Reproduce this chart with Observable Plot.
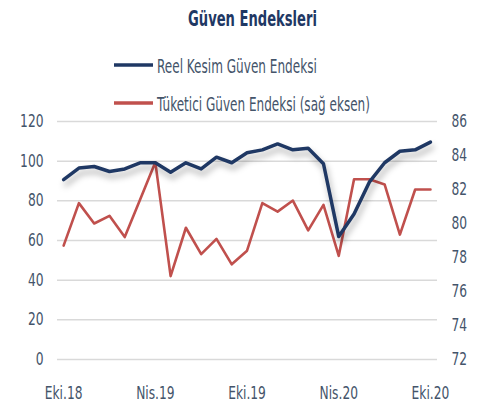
<!DOCTYPE html>
<html>
<head>
<meta charset="utf-8">
<script src="https://cdn.jsdelivr.net/npm/d3@7"></script>
<script src="https://cdn.jsdelivr.net/npm/@observablehq/plot@0.6"></script>
<style>
  html, body { margin: 0; padding: 0; background: #ffffff; }
  #wrap { position: relative; width: 483px; height: 409px; overflow: hidden; background: #fff; }
  #header { position: absolute; left: 100px; top: 0; }
  #chart { position: absolute; left: 0; top: 100px; }
</style>
</head>
<body>
<div id="wrap">
  <div id="chart"></div>
  <div id="header"></div>
</div>
<script>
// ---- data ----
const months = ["Eki.18","Kas.18","Ara.18","Oca.19","Şub.19","Mar.19","Nis.19","May.19","Haz.19","Tem.19","Ağu.19","Eyl.19",
                "Eki.19","Kas.19","Ara.19","Oca.20","Şub.20","Mar.20","Nis.20","May.20","Haz.20","Tem.20","Ağu.20","Eyl.20","Eki.20"];
const reelKesim = [90.7, 96.5, 97.3, 94.8, 96.1, 99.2, 99.2, 94.4, 99.2, 96.1, 102.0, 99.2,
                   104.2, 105.7, 108.7, 105.7, 106.5, 98.7, 62.0, 73.4, 89.4, 99.2, 105.0, 105.7, 109.6];
const tuketici = [78.7, 81.2, 80.0, 80.45, 79.2, 81.4, 83.6, 76.9, 79.75, 78.2, 79.1, 77.6,
                  78.4, 81.2, 80.7, 81.35, 79.6, 81.1, 78.1, 82.6, 82.6, 82.3, 79.35, 82.0, 82.0];
const xTickLabels = ["Eki.18","Nis.19","Eki.19","Nis.20","Eki.20"];
const leftTicks = [0, 20, 40, 60, 80, 100, 120];
const rightTicks = [72, 74, 76, 78, 80, 82, 84, 86];
const titleText = "Güven Endeksleri";
const seriesNames = ["Reel Kesim Güven Endeksi", "Tüketici Güven Endeksi (sağ eksen)"];

const FONT = '"Liberation Sans Narrow", "Arial Narrow", "DejaVu Sans Condensed", sans-serif';
const BLUE = "#1F3864", RED = "#C0504D", TEXT = "#44546A";

// map right-axis values onto the left scale
const rMin = rightTicks[0], rMax = rightTicks[rightTicks.length - 1];
const lMin = leftTicks[0], lMax = leftTicks[leftTicks.length - 1];
const toLeft = v => lMin + (v - rMin) / (rMax - rMin) * (lMax - lMin);
const toRight = v => rMin + (v - lMin) / (lMax - lMin) * (rMax - rMin);

const reelData = reelKesim.map((v, i) => ({i, month: months[i], v}));
const tukData = tuketici.map((v, i) => ({i, month: months[i], v: toLeft(v)}));
const xTicks = xTickLabels.map(m => months.indexOf(m));

const plot = Plot.plot({
  width: 483,
  height: 309,
  marginTop: 21,
  marginBottom: 50,
  marginLeft: 57,
  marginRight: 46,
  x: {domain: [-0.4, months.length - 1 + 0.46], axis: null},
  y: {domain: [lMin, lMax], axis: null},
  style: {fontFamily: FONT, fontSize: "17px", color: TEXT, background: "transparent"},
  marks: [
    Plot.gridY(leftTicks, {stroke: "#D9D9D9", strokeOpacity: 1, strokeWidth: 1.5}),
    Plot.axisY(leftTicks, {anchor: "left", label: null, tickSize: 0, tickPadding: 14, fill: TEXT, fontSize: 17}),
    Plot.axisY(rightTicks.map(toLeft), {anchor: "right", label: null, tickSize: 0, tickPadding: 14, fill: TEXT, fontSize: 17,
      tickFormat: d => String(Math.round(toRight(d)))}),
    Plot.axisX(xTicks, {anchor: "bottom", label: null, tickSize: 0, tickPadding: 27, fill: TEXT, fontSize: 17,
      tickFormat: i => months[i]}),
    Plot.lineY(tukData, {x: "i", y: "v", stroke: RED, strokeWidth: 2.6}),
    Plot.lineY(reelData, {x: "i", y: "v", stroke: BLUE, strokeWidth: 3.5})
  ]
});
document.getElementById("chart").appendChild(plot);
// narrow the tick labels horizontally, like the condensed original typeface
plot.querySelectorAll('g[aria-label$="tick label"] text').forEach(t => {
  const w = t.getComputedTextLength();
  if (w > 0) { t.setAttribute("textLength", (w * 0.8).toFixed(1)); t.setAttribute("lengthAdjust", "spacingAndGlyphs"); }
});
// soft shadow under the blue line, as in the original
const lines = plot.querySelectorAll('g[aria-label="line"]');
if (lines.length) lines[lines.length - 1].style.filter = "drop-shadow(2px 5px 3px rgba(0,0,0,0.32))";

// ---- header: title + legend (SVG placed at left 100px) ----
const ox = 100;
const hdr = d3.create("svg").attr("width", 300).attr("height", 118).style("overflow", "visible")
  .style("font-family", FONT);
document.getElementById("header").appendChild(hdr.node());
// a text squeezed horizontally to a target width
function squeezed(str, x, y, size, target, anchor, attrs) {
  const t = hdr.append("text").attr("font-size", size).attr("text-anchor", anchor).text(str);
  Object.entries(attrs).forEach(([k, v]) => t.attr(k, v));
  const w = t.node().getComputedTextLength();
  const sx = w > 0 ? target / w : 1;
  t.attr("transform", `translate(${x},${y}) scale(${sx.toFixed(4)},1)`);
  return t;
}
squeezed(titleText, 252.5 - ox, 26, 22, 129, "middle", {"font-weight": "bold", fill: BLUE});
const leg = [{name: seriesNames[0], color: BLUE, y: 65, len: 160},
             {name: seriesNames[1], color: RED, y: 103, len: 213}];
leg.forEach(l => {
  hdr.append("line").attr("x1", 114 - ox).attr("x2", 153 - ox).attr("y1", l.y).attr("y2", l.y)
    .attr("stroke", l.color).attr("stroke-width", 3.5);
  squeezed(l.name, 157 - ox, l.y + 8, 20, l.len, "start", {fill: TEXT});
});
</script>
</body>
</html>
